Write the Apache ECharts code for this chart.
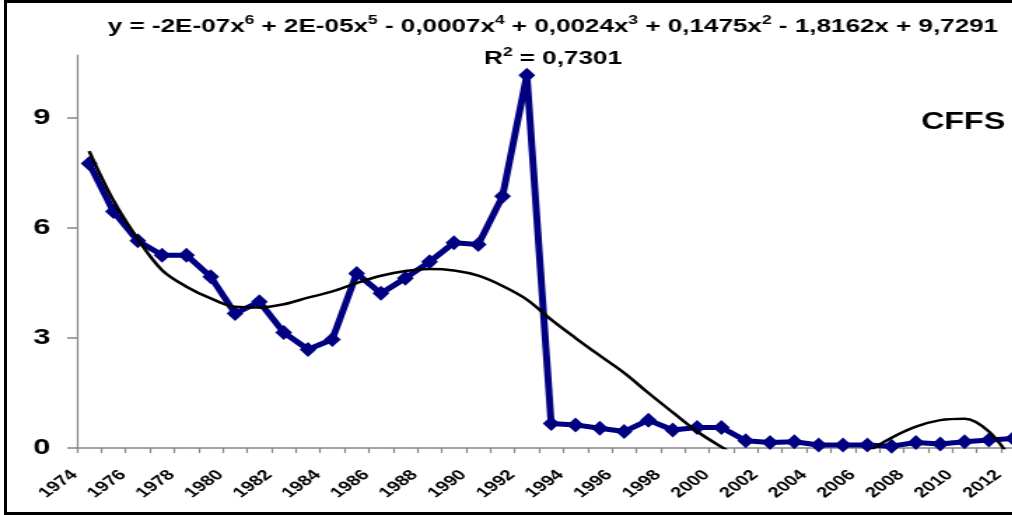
<!DOCTYPE html>
<html>
<head>
<meta charset="utf-8">
<script src="https://cdn.jsdelivr.net/npm/echarts@6/dist/echarts.min.js"></script>
<style>
  html, body { margin: 0; padding: 0; background: #ffffff; overflow: hidden; }
  #stage { position: relative; width: 1012px; height: 515px; overflow: hidden; }
  /* the chart is drawn narrow and widened horizontally */
  #chart { position: absolute; left: 0; top: 0; width: 736px; height: 515px;
           transform: scaleX(1.4); transform-origin: 0 0; }
  #frame { position: absolute; left: 4px; top: 0px; width: 1100px; height: 509px;
           border: 3px solid #000; pointer-events: none; }
</style>
</head>
<body>
<div id="stage">
  <div id="chart"></div>
  <div id="frame"></div>
</div>
<script>
// Years on the category axis
const years = [
  '1974','1975','1976','1977','1978','1979','1980','1981','1982','1983',
  '1984','1985','1986','1987','1988','1989','1990','1991','1992','1993',
  '1994','1995','1996','1997','1998','1999','2000','2001','2002','2003',
  '2004','2005','2006','2007','2008','2009','2010','2011','2012'
];

// CFFS yearly values
const cffs = [
  7.76, 6.45, 5.65, 5.26, 5.26, 4.67, 3.67, 3.99, 3.15, 2.69,
  2.96, 4.76, 4.22, 4.63, 5.08, 5.60, 5.55, 6.87, 10.17, 0.67,
  0.63, 0.54, 0.45, 0.76, 0.49, 0.56, 0.56, 0.20, 0.15, 0.17,
  0.08, 0.08, 0.08, 0.05, 0.15, 0.11, 0.17, 0.22, 0.26
];

// 6th-order polynomial trend, sampled at each year
const trend = [
  8.10, 6.75, 5.70, 4.85, 4.40, 4.08, 3.85, 3.83, 3.92, 4.10,
  4.27, 4.50, 4.70, 4.83, 4.88, 4.84, 4.70, 4.42, 4.05, 3.50,
  3.00, 2.52, 2.05, 1.50, 0.97, 0.45, 0.03, -0.35, -0.60, -0.70,
  -0.65, -0.45, -0.10, 0.28, 0.58, 0.76, 0.80, 0.45, -0.40
];

// Value-axis ticks
const yTicks = [0, 3, 6, 9];

// Trend equation and fit quality
const equationParts = [
  ['y = -2E-07x', '6'], [' + 2E-05x', '5'], [' - 0,0007x', '4'],
  [' + 0,0024x', '3'], [' + 0,1475x', '2'], [' - 1,8162x + 9,7291', '']
];
const rSquared = '0,7301';
const seriesName = 'CFFS';

const FONT = 'Arial, "Liberation Sans", sans-serif';

const supText = parts => parts
  .map(p => '{m|' + p[0] + '}' + (p[1] ? '{s|' + p[1] + '}' : ''))
  .join('');

const richEq = {
  m: { fontFamily: FONT, fontWeight: 'bold', fontSize: 18.6, color: '#000', lineHeight: 22, verticalAlign: 'bottom' },
  s: { fontFamily: FONT, fontWeight: 'bold', fontSize: 12.5, color: '#000', lineHeight: 12, verticalAlign: 'top' }
};

const chart = echarts.init(document.getElementById('chart'), null, { renderer: 'canvas' });

chart.setOption({
  animation: false,
  backgroundColor: '#ffffff',
  grid: { left: 55, right: 3.6, top: 55, bottom: 67, containLabel: false },
  title: [
    {
      text: supText(equationParts),
      left: 390,
      top: 9,
      textAlign: 'center',
      textStyle: { rich: richEq }
    },
    {
      text: supText([['R', '2'], [' = ' + rSquared, '']]),
      left: 390,
      top: 41,
      textAlign: 'center',
      textStyle: { rich: richEq }
    },
    {
      text: seriesName,
      left: 713,
      top: 106,
      textAlign: 'right',
      textStyle: { fontFamily: FONT, fontWeight: 'bold', fontSize: 23, color: '#000' }
    }
  ],
  xAxis: {
    type: 'category',
    data: years,
    boundaryGap: true,
    axisLine: { show: true, lineStyle: { color: '#868686', width: 1.5 } },
    axisTick: { show: true, interval: 0, length: 5, lineStyle: { color: '#868686', width: 1.2 } },
    axisLabel: {
      interval: 1,
      rotate: 45,
      margin: 14,
      padding: [0, 15, 0, 0],
      fontFamily: FONT,
      fontWeight: 'bold',
      fontSize: 14.5,
      color: '#000'
    },
    splitLine: { show: false }
  },
  yAxis: {
    type: 'value',
    min: 0,
    max: 10.72,
    axisLine: { show: true, lineStyle: { color: '#868686', width: 1.2 } },
    axisTick: { show: true, length: 7, customValues: yTicks, lineStyle: { color: '#868686', width: 1.5 } },
    axisLabel: {
      customValues: yTicks,
      margin: 19,
      fontFamily: FONT,
      fontWeight: 'bold',
      fontSize: 22,
      color: '#000'
    },
    splitLine: { show: false }
  },
  series: [
    {
      name: seriesName,
      type: 'line',
      data: cffs,
      symbol: 'diamond',
      symbolSize: [12, 15],
      showAllSymbol: true,
      lineStyle: { color: '#000080', width: 5 },
      itemStyle: { color: '#000080' },
      z: 2
    },
    {
      name: 'trend',
      type: 'line',
      data: trend,
      symbol: 'none',
      smooth: 0.35,
      clip: true,
      lineStyle: { color: '#000000', width: 2.5 },
      z: 3
    }
  ]
});
</script>
</body>
</html>
